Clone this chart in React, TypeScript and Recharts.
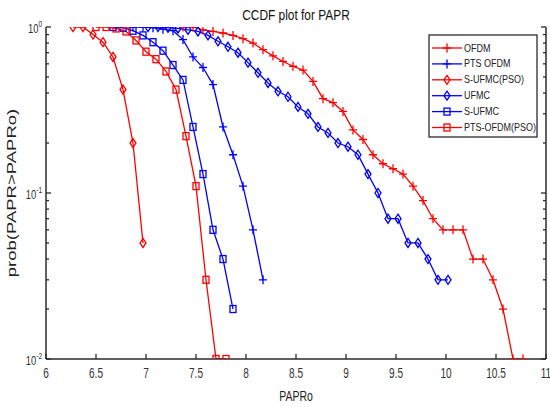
import { Line, LineChart, XAxis, YAxis } from "recharts";

// PAPRo sample points and CCDF values
const ofdmX = [7.37, 7.47, 7.57, 7.67, 7.77, 7.87, 7.97, 8.07, 8.17, 8.27, 8.37, 8.47, 8.57, 8.67, 8.77, 8.87, 8.97, 9.07, 9.17, 9.27, 9.37, 9.47, 9.57, 9.67, 9.77, 9.87, 9.97, 10.07, 10.17, 10.27, 10.37, 10.47, 10.57, 10.67, 10.77];
const ofdmY = [1, 1, 0.96, 0.94, 0.92, 0.89, 0.85, 0.8, 0.73, 0.67, 0.62, 0.58, 0.55, 0.47, 0.37, 0.35, 0.31, 0.24, 0.21, 0.17, 0.15, 0.14, 0.13, 0.11, 0.09, 0.07, 0.06, 0.06, 0.06, 0.04, 0.04, 0.03, 0.02, 0.01, 0.01];

const ptsOfdmX = [6.87, 6.97, 7.07, 7.17, 7.27, 7.37, 7.47, 7.57, 7.67, 7.77, 7.87, 7.97, 8.07, 8.17];
const ptsOfdmY = [1, 1, 0.99, 0.97, 0.95, 0.84, 0.66, 0.57, 0.45, 0.25, 0.17, 0.11, 0.06, 0.03];

const sUfmcPsoX = [6.27, 6.37, 6.47, 6.57, 6.67, 6.77, 6.87, 6.97];
const sUfmcPsoY = [1, 1, 0.9, 0.81, 0.66, 0.42, 0.2, 0.05];

const ufmcX = [7.02, 7.12, 7.22, 7.32, 7.42, 7.52, 7.62, 7.72, 7.82, 7.92, 8.02, 8.12, 8.22, 8.32, 8.42, 8.52, 8.62, 8.72, 8.82, 8.92, 9.02, 9.12, 9.22, 9.32, 9.42, 9.52, 9.62, 9.72, 9.82, 9.92, 10.02];
const ufmcY = [1, 1, 0.99, 0.98, 0.96, 0.94, 0.89, 0.82, 0.76, 0.7, 0.61, 0.53, 0.46, 0.41, 0.38, 0.33, 0.3, 0.25, 0.23, 0.2, 0.19, 0.17, 0.13, 0.1, 0.07, 0.07, 0.05, 0.05, 0.04, 0.03, 0.03];

const sUfmcX = [6.67, 6.77, 6.87, 6.97, 7.07, 7.17, 7.27, 7.37, 7.47, 7.57, 7.67, 7.77, 7.87];
const sUfmcY = [1, 0.99, 0.95, 0.89, 0.81, 0.72, 0.59, 0.48, 0.25, 0.13, 0.06, 0.04, 0.02];

const ptsOfdmPsoX = [6.5, 6.6, 6.7, 6.8, 6.9, 7.0, 7.1, 7.2, 7.3, 7.4, 7.5, 7.6, 7.7, 7.8];
const ptsOfdmPsoY = [1, 1, 0.98, 0.94, 0.83, 0.71, 0.64, 0.54, 0.42, 0.22, 0.11, 0.03, 0.01, 0.01];

const xTicks = [6, 6.5, 7, 7.5, 8, 8.5, 9, 9.5, 10, 10.5, 11];
const yTicks = [0.01, 0.02, 0.03, 0.04, 0.05, 0.06, 0.07, 0.08, 0.09, 0.1, 0.2, 0.3, 0.4, 0.5, 0.6, 0.7, 0.8, 0.9, 1];
const yMajor = [0.01, 0.1, 1];

const RED = "#ff0000";
const BLUE = "#0000ff";
const AXIS = "#2b2b2b";
const FONT = "'Liberation Sans', Arial, sans-serif";

type Kind = "plus" | "diamond" | "square";

const zip = (xs: number[], ys: number[]) => xs.map((x, i) => ({ x, y: ys[i] }));

const series = [
  { name: "OFDM", color: RED, kind: "plus" as Kind, data: zip(ofdmX, ofdmY) },
  { name: "PTS OFDM", color: BLUE, kind: "plus" as Kind, data: zip(ptsOfdmX, ptsOfdmY) },
  { name: "S-UFMC(PSO)", color: RED, kind: "diamond" as Kind, data: zip(sUfmcPsoX, sUfmcPsoY) },
  { name: "UFMC", color: BLUE, kind: "diamond" as Kind, data: zip(ufmcX, ufmcY) },
  { name: "S-UFMC", color: BLUE, kind: "square" as Kind, data: zip(sUfmcX, sUfmcY) },
  { name: "PTS-OFDM(PSO)", color: RED, kind: "square" as Kind, data: zip(ptsOfdmPsoX, ptsOfdmPsoY) },
];

function Marker({ cx, cy, kind, color }: { cx: number; cy: number; kind: Kind; color: string }) {
  if (cx == null || cy == null) return null;
  if (kind === "plus") {
    return <path d={`M${cx - 4},${cy}H${cx + 4}M${cx},${cy - 4.5}V${cy + 4.5}`} stroke={color} strokeWidth={1.3} fill="none" />;
  }
  if (kind === "diamond") {
    return (
      <path
        d={`M${cx},${cy - 4.5}L${cx + 3},${cy}L${cx},${cy + 4.5}L${cx - 3},${cy}Z`}
        stroke={color}
        strokeWidth={1.3}
        fill="none"
      />
    );
  }
  return <rect x={cx - 3} y={cy - 3.5} width={6} height={7} stroke={color} strokeWidth={1.3} fill="none" />;
}

function BottomTick({ x, y, payload }: any) {
  return (
    <g>
      <line x1={x} x2={x} y1={y} y2={y - 5} stroke={AXIS} strokeWidth={1.3} />
      <g transform={`translate(${x},${y + 19}) scale(0.72,1)`}>
        <text textAnchor="middle" fontSize={14} fontFamily={FONT} fill="#333">
          {payload.value}
        </text>
      </g>
    </g>
  );
}

function TopTick({ x, y }: any) {
  return <line x1={x} x2={x} y1={y} y2={y + 5} stroke={AXIS} strokeWidth={1.3} />;
}

function LeftTick({ x, y, payload }: any) {
  const major = yMajor.includes(payload.value);
  const exp = Math.round(Math.log10(payload.value));
  return (
    <g>
      <line x1={x} x2={x + (major ? 5 : 3)} y1={y} y2={y} stroke={AXIS} strokeWidth={1.3} />
      {major && (
        <g transform={`translate(${x - 4},${y + 6}) scale(0.72,1)`}>
          <text textAnchor="end" fontSize={13} fontFamily={FONT} fill="#333">
            <tspan>10</tspan>
            <tspan dy={-6} fontSize={9}>
              {exp}
            </tspan>
          </text>
        </g>
      )}
    </g>
  );
}

function RightTick({ x, y, payload }: any) {
  const major = yMajor.includes(payload.value);
  return <line x1={x} x2={x - (major ? 5 : 3)} y1={y} y2={y} stroke={AXIS} strokeWidth={1.3} />;
}

function Overlay() {
  const lx = 429;
  const ly = 35;
  return (
    <svg width={550} height={407} style={{ position: "absolute", left: 0, top: 0, pointerEvents: "none" }}>
      <g transform="translate(296,20) scale(0.85,1)">
        <text textAnchor="middle" fontSize={14} fontFamily={FONT} fill="#111">
          CCDF plot for PAPR
        </text>
      </g>
      <g transform="translate(296,401) scale(0.7,1)">
        <text textAnchor="middle" fontSize={15} fontFamily={FONT} fill="#222">
          PAPRo
        </text>
      </g>
      <g transform="translate(16,193) scale(0.65,1) rotate(-90)">
        <text textAnchor="middle" fontSize={18.5} fontFamily={FONT} fill="#222">
          prob(PAPR&gt;PAPRo)
        </text>
      </g>
      <rect x={lx} y={ly} width={108} height={102} fill="#fff" stroke={AXIS} strokeWidth={1.3} />
      {series.map((s, i) => {
        const cy = ly + 13 + i * 15.9;
        return (
          <g key={s.name}>
            <line x1={lx + 3} x2={lx + 33} y1={cy} y2={cy} stroke={s.color} strokeWidth={1.3} />
            <Marker cx={lx + 18} cy={cy} kind={s.kind} color={s.color} />
            <g transform={`translate(${lx + 35},${cy + 3.5}) scale(0.9,1)`}>
              <text fontSize={10} fontFamily={FONT} fill="#222">
                {s.name}
              </text>
            </g>
          </g>
        );
      })}
    </svg>
  );
}

export default function App() {
  return (
    <div style={{ position: "absolute", left: 0, top: 0, width: 550, height: 407, background: "#fff" }}>
      <LineChart width={550} height={407} margin={{ top: 27, right: 0, bottom: 0, left: 0 }}>
        <XAxis
          dataKey="x"
          type="number"
          domain={[6, 11]}
          ticks={xTicks}
          allowDataOverflow
          height={48}
          tickSize={0}
          tickMargin={0}
          tickLine={false}
          tick={BottomTick}
          axisLine={{ stroke: AXIS, strokeWidth: 1.5 }}
          interval={0}
        />
        <XAxis
          xAxisId="top"
          orientation="top"
          dataKey="x"
          type="number"
          domain={[6, 11]}
          ticks={xTicks}
          allowDataOverflow
          height={0}
          tickSize={0}
          tickMargin={0}
          tickLine={false}
          tick={TopTick}
          axisLine={{ stroke: AXIS, strokeWidth: 1.5 }}
          interval={0}
        />
        <YAxis
          scale="log"
          type="number"
          domain={[0.01, 1]}
          ticks={yTicks}
          allowDataOverflow
          width={46}
          tickSize={0}
          tickMargin={0}
          tickLine={false}
          tick={LeftTick}
          axisLine={{ stroke: AXIS, strokeWidth: 1.5 }}
          interval={0}
        />
        <YAxis
          yAxisId="right"
          orientation="right"
          scale="log"
          type="number"
          domain={[0.01, 1]}
          ticks={yTicks}
          allowDataOverflow
          width={4}
          tickSize={0}
          tickMargin={0}
          tickLine={false}
          tick={RightTick}
          axisLine={{ stroke: AXIS, strokeWidth: 1.5 }}
          interval={0}
        />
        {series.map((s) => (
          <Line
            key={s.name}
            data={s.data}
            dataKey="y"
            name={s.name}
            stroke={s.color}
            strokeWidth={1.3}
            type="linear"
            isAnimationActive={false}
            dot={(p: any) => <Marker key={`${s.name}-${p.index}`} cx={p.cx} cy={p.cy} kind={s.kind} color={s.color} />}
            activeDot={false}
          />
        ))}
      </LineChart>
      <Overlay />
    </div>
  );
}
